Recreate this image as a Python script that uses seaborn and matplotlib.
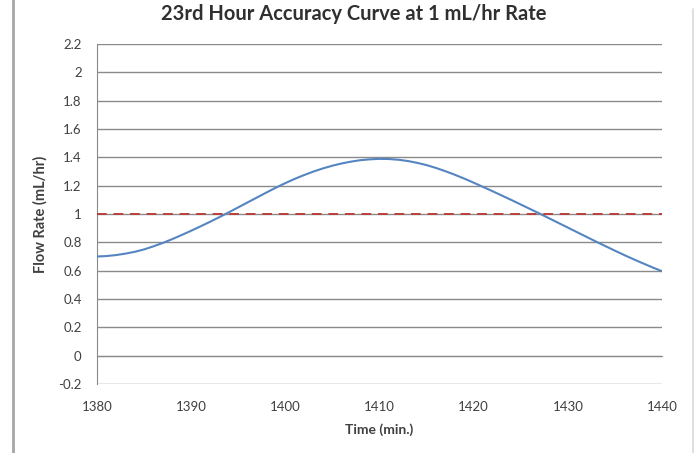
import numpy as np
import pandas as pd
import matplotlib
matplotlib.use("Agg")
import matplotlib.pyplot as plt
from matplotlib.lines import Line2D
import seaborn as sns

# valeurs (une par minute)
time_min = list(range(1380, 1441))
flow_rate = [0.700, 0.703, 0.710, 0.720, 0.733, 0.750, 0.772, 0.796, 0.823, 0.852,
             0.882, 0.913, 0.945, 0.978, 1.012, 1.047, 1.082, 1.117, 1.152, 1.186,
             1.218, 1.248, 1.275, 1.300, 1.322, 1.341, 1.357, 1.370, 1.380, 1.386,
             1.389, 1.388, 1.383, 1.374, 1.361, 1.345, 1.325, 1.302, 1.277, 1.250,
             1.221, 1.191, 1.161, 1.130, 1.099, 1.067, 1.035, 1.003, 0.970, 0.937,
             0.904, 0.871, 0.838, 0.805, 0.773, 0.741, 0.710, 0.680, 0.651, 0.623,
             0.596]
target_time = [1380, 1440]
target_rate = [1.0, 1.0]

x_ticks = [1380, 1390, 1400, 1410, 1420, 1430, 1440]
y_ticks = [-0.2, 0, 0.2, 0.4, 0.6, 0.8, 1, 1.2, 1.4, 1.6, 1.8, 2, 2.2]
y_labels = ["-0.2", "0", "0.2", "0.4", "0.6", "0.8", "1", "1.2", "1.4",
            "1.6", "1.8", "2", "2.2"]

sns.set_style("white")
plt.rcParams["font.family"] = ["Lato", "DejaVu Sans"]

curve_df = pd.DataFrame({"time": time_min, "rate": flow_rate})
target_df = pd.DataFrame({"time": target_time, "rate": target_rate})

fig = plt.figure(figsize=(7, 4.53), dpi=100)
ax = fig.add_axes([0.1386, 0.1523, 0.8071, 0.7506])

grid_color = "#8a8a8a"
text_color = "#404040"
for yv in y_ticks:
    ax.axhline(yv, color=grid_color, lw=1.0, zorder=0)

sns.lineplot(data=curve_df, x="time", y="rate", ax=ax, color="#5585c0",
             lw=1.5, zorder=3)
sns.lineplot(data=target_df, x="time", y="rate", ax=ax, color="#b8403c",
             lw=1.4, dashes=(5, 3.5), zorder=4)

ax.set_xlim(1380, 1440)
ax.set_ylim(-0.2, 2.2)
ax.set_yticks(y_ticks)
ax.set_yticklabels(y_labels)

# axe x qui croise à 0 (style Excel)
ax.spines["bottom"].set_position(("data", 0))
ax.spines["bottom"].set_color(grid_color)
ax.spines["left"].set_color(grid_color)
ax.spines["top"].set_visible(False)
ax.spines["right"].set_visible(False)
ax.set_xticks(x_ticks)
ax.tick_params(axis="x", direction="inout", length=5, color=grid_color,
               labelbottom=False)
ax.tick_params(axis="y", direction="out", length=4, color=grid_color,
               labelsize=9.5, labelcolor=text_color, pad=7)

sec = ax.secondary_xaxis("bottom")
sec.set_xticks(x_ticks)
sec.set_xticklabels([str(t) for t in x_ticks])
sec.spines["bottom"].set_visible(False)
sec.tick_params(length=0, labelsize=9.5, labelcolor=text_color, pad=12)
sec.set_xlabel("Time (min.)", fontsize=10, fontweight="bold",
               color=text_color, labelpad=8)

ax.set_xlabel("")
ax.set_ylabel("Flow Rate (mL/hr)", fontsize=10.5, fontweight="bold",
              color=text_color, labelpad=8)

fig.text(0.505, 0.97, "23rd Hour Accuracy Curve at 1 mL/hr Rate",
         ha="center", va="center", fontsize=14.5, fontweight="bold",
         color="#303030")

# cadre du graphique
fig.add_artist(Line2D([0.019, 0.019], [0, 1], transform=fig.transFigure,
                      color="#a6a6a6", lw=2))
fig.add_artist(Line2D([0.99, 0.99], [0, 0.98], transform=fig.transFigure,
                      color="#d9d9d9", lw=1.2))

fig.savefig("out.png", dpi=100)
